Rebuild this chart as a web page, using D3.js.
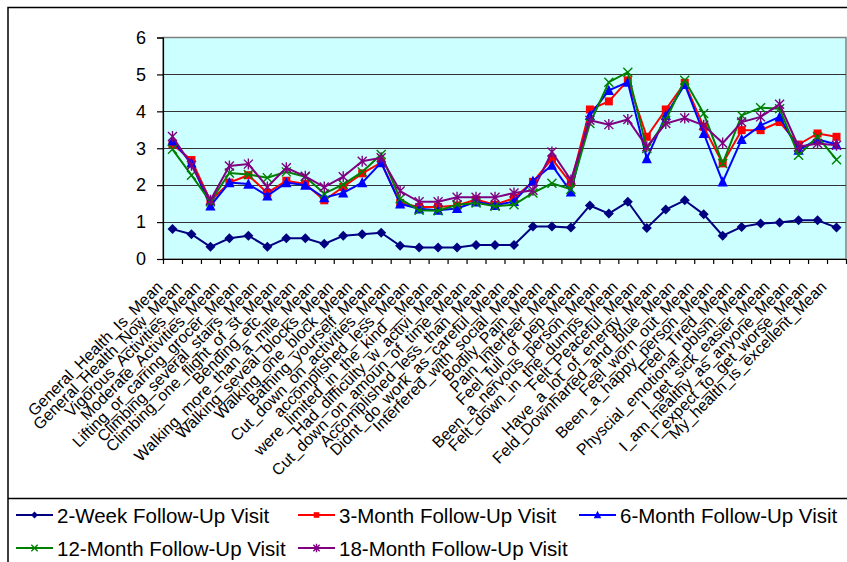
<!DOCTYPE html>
<html><head><meta charset="utf-8">
<script src="https://cdn.jsdelivr.net/npm/d3@7"></script>
<style>body{margin:0;background:#fff;} svg{display:block;font-family:Arial,"Liberation Sans",sans-serif;}</style>
</head><body>
<svg id="chart" width="847" height="562"></svg>
<script>
const categories = [
  "General_Health_Is_Mean","General_Health_Now_Mean","Vigorous_Activities_Mean","Moderate_Activities_Mean",
  "Lifting_or_carring_grocer_Mean","Climbing_several_stairs_Mean","Climbing_one_flight_of_st_Mean","Bending_etc_Mean",
  "Walking_more_than_a_mile_Mean","Walking_seveal_blocks_Mean","Walking_one_block_Mean","Bathing_yourself_Mean",
  "Cut_down_on_activities_Mean","accomplished_less_Mean","were_limited_in_the_kind__Mean","Had_difficulty_w_activi_Mean",
  "Cut_down_on_amoun_of_time_Mean","Accomplished_less_than_Mean","Didnt_do_work_as_careful_Mean","Interfered_with_social_Mean",
  "Bodily_Pain_Mean","Pain_Interfeer_Mean","Feel_full_of_pep_Mean","Been_a_nervous_person_Mean",
  "Felt_down_in_the_dumps_Mean","Felt_Peaceful_Mean","Have_a_lot_of_energy_Mean","Feld_Downharted_and_blue_Mean",
  "Feel_worn_out_Mean","Been_a_happy_person_Mean","Feel_Tired_Mean","Physcial_emotional_pblsm_Mean",
  "I_get_sick_easier_Mean","I_am_healthy_as_anyone_Mean","I_expect_to_get_worse_Mean","My_health_is_excellent_Mean"
];
const seriesNames = ["2-Week Follow-Up Visit","3-Month Follow-Up Visit","6-Month Follow-Up Visit","12-Month Follow-Up Visit","18-Month Follow-Up Visit"];
const week2 = [0.81,0.67,0.33,0.56,0.63,0.33,0.56,0.56,0.41,0.63,0.67,0.71,0.36,0.31,0.31,0.31,0.38,0.38,0.38,0.88,0.88,0.85,1.45,1.23,1.55,0.84,1.34,1.59,1.21,0.63,0.87,0.96,0.99,1.05,1.05,0.85];
const month3 = [3.11,2.68,1.57,2.07,2.27,1.79,2.12,2.03,1.59,1.95,2.32,2.61,1.52,1.41,1.41,1.45,1.61,1.47,1.65,2.09,2.71,2.05,4.05,4.27,4.84,3.31,4.05,4.77,3.58,2.59,3.49,3.49,3.71,3.10,3.40,3.31];
const month6 = [3.20,2.60,1.44,2.07,2.03,1.71,2.07,2.00,1.66,1.79,2.07,2.61,1.49,1.36,1.32,1.37,1.55,1.45,1.56,2.11,2.54,1.82,3.89,4.57,4.79,2.72,3.89,4.73,3.40,2.09,3.24,3.62,3.85,2.95,3.24,3.10];
const month12 = [2.97,2.27,1.55,2.33,2.29,2.20,2.36,2.23,1.77,2.02,2.36,2.83,1.63,1.32,1.31,1.47,1.52,1.43,1.47,1.79,2.05,1.89,3.67,4.79,5.06,2.99,3.76,4.84,3.94,2.59,3.89,4.10,4.07,2.81,3.31,2.69];
const month18 = [3.32,2.54,1.59,2.52,2.57,1.95,2.47,2.24,1.95,2.23,2.65,2.74,1.84,1.55,1.55,1.67,1.67,1.67,1.79,1.86,2.90,2.14,3.76,3.64,3.78,3.04,3.67,3.82,3.62,3.14,3.71,3.85,4.19,3.04,3.13,3.08];
const yTicks = [0,1,2,3,4,5,6];

const seriesValues = [week2, month3, month6, month12, month18];
const colors = ["#000080","#FF0000","#0000FF","#008000","#800080"];
const markers = ["diamond","square","triangle","x","star"];

const W = 847, H = 562;
const svg = d3.select("#chart");
svg.append("rect").attr("width", W).attr("height", H).attr("fill", "#fff");
svg.append("rect").attr("x", 8).attr("y", 7.5).attr("width", W).attr("height", H)
  .attr("fill", "none").attr("stroke", "#000").attr("stroke-width", 1.5);

const plot = {left: 163, right: 846, top: 37.5, bottom: 259};
const x = d3.scaleBand().domain(categories).range([plot.left, plot.right]);
const xEdge = d3.scaleLinear().domain([0, categories.length]).range([plot.left, plot.right]);
const y = d3.scaleLinear().domain([0, 6]).range([plot.bottom, plot.top]);
const cx = c => x(c) + x.bandwidth() / 2;

svg.append("rect").attr("x", plot.left).attr("y", plot.top)
  .attr("width", plot.right - plot.left).attr("height", plot.bottom - plot.top)
  .attr("fill", "#CCFFFF").attr("stroke", "#808080").attr("stroke-width", 1.5);

svg.append("g").selectAll("line").data(yTicks.filter(d => d > 0 && d < 6)).join("line")
  .attr("x1", plot.left).attr("x2", plot.right)
  .attr("y1", d => Math.round(y(d)) + 0.5).attr("y2", d => Math.round(y(d)) + 0.5)
  .attr("stroke", "#333").attr("stroke-width", 1);

// y axis
const gy = svg.append("g").attr("transform", `translate(${plot.left},0)`)
  .call(d3.axisLeft(y).tickValues(yTicks).tickSize(6).tickPadding(11).tickFormat(d3.format("d")));
gy.selectAll("text").attr("font-size", 18).attr("fill", "#000").attr("font-family", "Arial, 'Liberation Sans', sans-serif");
gy.selectAll("line,path").attr("stroke", "#000").attr("stroke-width", 1.2);

// x axis tick marks between categories
const gx = svg.append("g").attr("transform", `translate(0,${plot.bottom})`)
  .call(d3.axisBottom(xEdge).tickValues(d3.range(0, categories.length + 1)).tickSize(5).tickSizeOuter(0).tickFormat(""));
gx.selectAll("line,path").attr("stroke", "#000").attr("stroke-width", 1.2);

// x labels
svg.append("g").selectAll("text").data(categories).join("text")
  .attr("transform", d => `translate(${cx(d) - 9},${plot.bottom + 29}) rotate(-45)`)
  .attr("text-anchor", "end").attr("font-size", 16).attr("fill", "#000")
  .text(d => d);

function drawMarker(g, type, color, px, py, s) {
  if (type === "diamond") {
    g.append("path").attr("d", `M${px},${py - s}L${px + s},${py}L${px},${py + s}L${px - s},${py}Z`).attr("fill", color);
  } else if (type === "square") {
    g.append("rect").attr("x", px - s).attr("y", py - s).attr("width", 2 * s).attr("height", 2 * s).attr("fill", color);
  } else if (type === "triangle") {
    g.append("path").attr("d", `M${px},${py - s - 1}L${px + s + 0.5},${py + s}L${px - s - 0.5},${py + s}Z`).attr("fill", color);
  } else if (type === "x") {
    g.append("path").attr("d", `M${px - s},${py - s}L${px + s},${py + s}M${px - s},${py + s}L${px + s},${py - s}`)
      .attr("stroke", color).attr("stroke-width", 1.4).attr("fill", "none");
  } else if (type === "star") {
    g.append("path").attr("d", `M${px - s},${py - s}L${px + s},${py + s}M${px - s},${py + s}L${px + s},${py - s}M${px},${py - s - 1}L${px},${py + s + 1}`)
      .attr("stroke", color).attr("stroke-width", 1.4).attr("fill", "none");
  }
}
const markerSize = {diamond: 5, square: 4, triangle: 4.6, x: 4.5, star: 4.5};

const line = d3.line().x((d, i) => cx(categories[i])).y(d => y(d));
seriesValues.forEach((vals, si) => {
  const g = svg.append("g");
  g.append("path").datum(vals).attr("d", line).attr("fill", "none")
    .attr("stroke", colors[si]).attr("stroke-width", 2);
  vals.forEach((v, i) => drawMarker(g, markers[si], colors[si], cx(categories[i]), y(v), markerSize[markers[si]]));
});

// legend
svg.append("line").attr("x1", 8).attr("x2", W).attr("y1", 498.5).attr("y2", 498.5)
  .attr("stroke", "#000").attr("stroke-width", 1.5);
const legendPos = [
  {lx: 16, ty: 515}, {lx: 298, ty: 515}, {lx: 579, ty: 515},
  {lx: 16, ty: 548}, {lx: 298, ty: 548}
];
seriesNames.forEach((name, si) => {
  const p = legendPos[si];
  const g = svg.append("g");
  g.append("line").attr("x1", p.lx).attr("x2", p.lx + 37).attr("y1", p.ty).attr("y2", p.ty)
    .attr("stroke", colors[si]).attr("stroke-width", 1.8);
  drawMarker(g, markers[si], colors[si], p.lx + 18.5, p.ty, markerSize[markers[si]] * 0.7);
  g.append("text").attr("x", p.lx + 41).attr("y", p.ty + 7.5).attr("font-size", 20.5)
    .attr("fill", "#000").text(name);
});
</script>
</body></html>
